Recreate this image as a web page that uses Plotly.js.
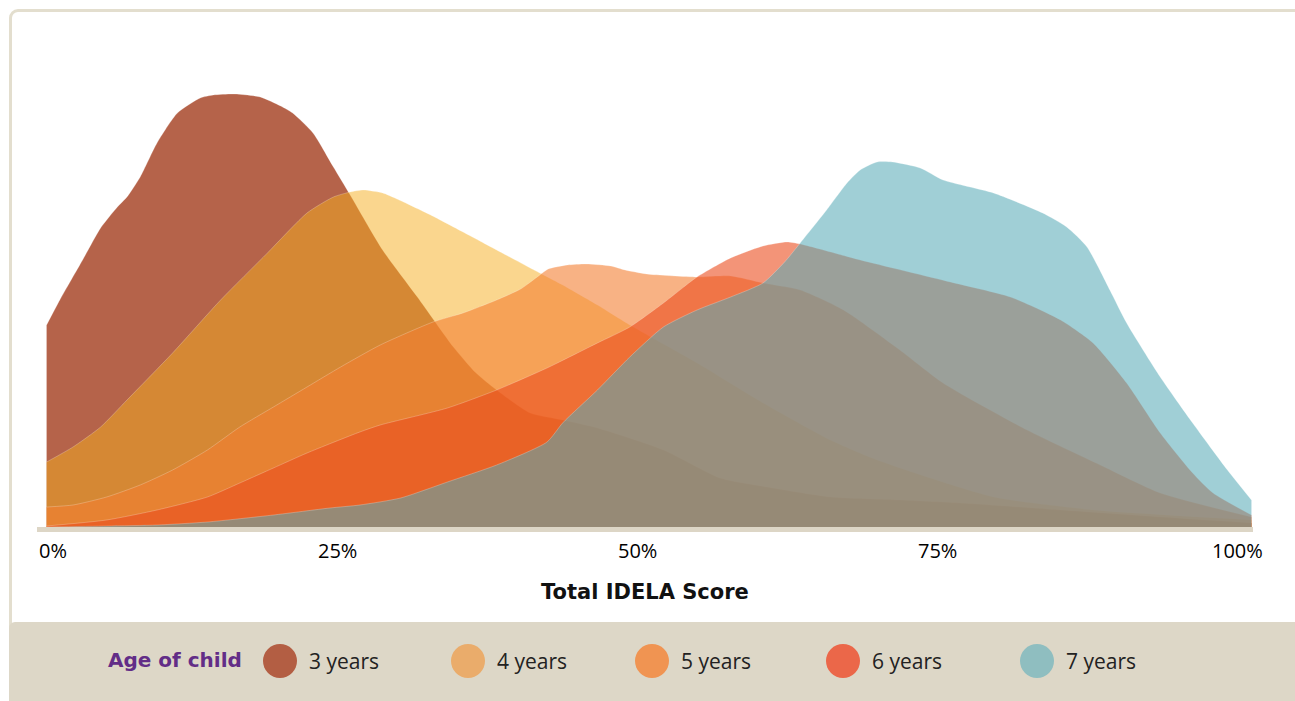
<!DOCTYPE html>
<html>
<head>
<meta charset="utf-8">
<script src="https://cdn.plot.ly/plotly-3.0.1.min.js"></script>
<style>
  html, body { margin: 0; padding: 0; background: #fff; overflow: hidden; }
  #frame { position: absolute; left: 9px; top: 9px; width: 1320px; height: 720px;
           border: 3px solid #e3dece; border-radius: 9px; box-sizing: border-box; }
  #band { position: absolute; left: 9px; top: 622px; width: 1320px; height: 100px;
          background: #ddd7c7; border-radius: 6px; }
  #chart { position: absolute; left: 0; top: 0; width: 1295px; height: 701px; }
</style>
</head>
<body>
<div id="frame"></div>
<div id="band"></div>
<div id="chart"></div>
<script>
// Age groups and density curves (x = total IDELA score in %, y = relative density)
const ages = ["3 years", "4 years", "5 years", "6 years", "7 years"];

const score3 = [0.8, 1.9, 3.8, 5.3, 6.7, 7.5, 8.6, 10.0, 11.7, 13.6, 14.7, 16.5, 18.6, 20.3, 21.3, 23.0, 24.7, 26.1, 28.8, 31.7, 34.7, 36.5, 38.3, 41.1, 43.8, 46.7, 52.2, 56.9, 60.3, 66.1, 71.9, 76.9, 85.3, 93.6, 101.2];
const dens3  = [2.02, 2.27, 2.67, 2.99, 3.20, 3.30, 3.50, 3.84, 4.14, 4.29, 4.32, 4.33, 4.30, 4.21, 4.14, 3.94, 3.60, 3.32, 2.77, 2.30, 1.80, 1.55, 1.37, 1.14, 1.07, 0.99, 0.77, 0.49, 0.41, 0.30, 0.27, 0.24, 0.17, 0.10, 0.04];

const score4 = [0.8, 3.0, 5.3, 7.5, 11.3, 15.3, 19.2, 22.5, 24.7, 26.1, 27.2, 28.8, 30.0, 32.8, 35.5, 38.3, 41.1, 43.8, 46.7, 49.4, 51.3, 55.0, 60.5, 66.1, 70.0, 79.7, 88.0, 101.2];
const dens4  = [0.65, 0.80, 1.00, 1.27, 1.74, 2.27, 2.74, 3.14, 3.30, 3.35, 3.37, 3.34, 3.28, 3.12, 2.95, 2.77, 2.59, 2.42, 2.22, 2.02, 1.89, 1.64, 1.24, 0.87, 0.67, 0.30, 0.17, 0.07];

const score5 = [0.8, 3.0, 5.8, 8.6, 11.3, 14.2, 16.9, 19.7, 22.5, 25.3, 28.6, 33.0, 35.5, 38.3, 40.3, 41.9, 42.6, 44.2, 45.8, 47.8, 49.0, 50.8, 55.0, 57.8, 60.5, 63.6, 67.2, 71.9, 75.5, 82.5, 88.6, 93.6, 101.2];
const dens5  = [0.20, 0.22, 0.30, 0.42, 0.57, 0.77, 1.00, 1.20, 1.40, 1.60, 1.82, 2.05, 2.14, 2.27, 2.38, 2.52, 2.58, 2.62, 2.63, 2.61, 2.57, 2.53, 2.50, 2.51, 2.44, 2.37, 2.17, 1.77, 1.44, 0.97, 0.62, 0.34, 0.10];

const score6 = [0.8, 5.8, 10.0, 14.2, 16.9, 19.7, 22.5, 26.9, 28.6, 34.2, 38.3, 42.5, 46.7, 49.4, 52.2, 55.0, 57.8, 60.5, 62.5, 63.6, 68.6, 76.1, 81.1, 85.3, 88.0, 90.8, 93.6, 96.3, 98.0, 101.2];
const dens6  = [0.01, 0.07, 0.17, 0.30, 0.44, 0.59, 0.74, 0.95, 1.02, 1.19, 1.37, 1.59, 1.84, 2.00, 2.24, 2.50, 2.69, 2.81, 2.85, 2.83, 2.67, 2.45, 2.30, 2.07, 1.84, 1.44, 0.94, 0.54, 0.34, 0.12];

const score7 = [0.8, 5.8, 10.0, 14.2, 19.7, 24.4, 26.9, 30.3, 34.2, 38.3, 42.5, 43.8, 46.7, 49.4, 52.2, 55.0, 57.8, 60.5, 62.3, 63.6, 65.8, 67.5, 68.6, 70.0, 71.3, 73.6, 75.5, 79.7, 83.8, 85.8, 87.5, 89.4, 90.8, 93.6, 96.3, 99.2, 101.2];
const dens7  = [0.00, 0.01, 0.02, 0.05, 0.12, 0.19, 0.22, 0.29, 0.45, 0.62, 0.85, 1.04, 1.37, 1.70, 2.00, 2.17, 2.30, 2.44, 2.65, 2.84, 3.17, 3.44, 3.57, 3.65, 3.65, 3.59, 3.47, 3.34, 3.14, 3.00, 2.80, 2.37, 2.04, 1.50, 1.04, 0.57, 0.27];

const scores = [score3, score4, score5, score6, score7];
const densities = [dens3, dens4, dens5, dens6, dens7];

const tickValues = [0, 25, 50, 75, 100];
const tickLabels = ["0%", "25%", "50%", "75%", "100%"];

// styles
const fillColors = ["rgba(181,99,74,1)", "rgba(245,173,29,0.5)", "rgba(243,127,50,0.6)",
                    "rgba(235,77,30,0.6)", "rgba(86,169,182,0.56)"];
const legendColors = ["#b35e43", "#eaac6b", "#f09452", "#eb6749", "#8fbec0"];
const legendPx = [280, 468, 652, 843, 1037];

const W = 1295, H = 701;
const M = { l: 37, r: 42, t: 77, b: 174 };
const plotW = W - M.l - M.r, plotH = H - M.t - M.b;
const px2paperX = px => (px - M.l) / plotW;
const px2paperY = py => (H - M.b - py) / plotH;

const traces = ages.map((age, i) => ({
    x: scores[i],
    y: densities[i],
    type: "scatter",
    mode: "lines",
    name: age,
    fill: "tozeroy",
    fillcolor: fillColors[i],
    line: { color: "rgba(255,255,255,0.3)", width: 0.8, shape: "spline", smoothing: 0.6 },
    hoverinfo: "skip",
    showlegend: false
}));

const annotations = [];
tickValues.forEach((v, i) => {
    annotations.push({
        x: v, y: px2paperY(550), xref: "x", yref: "paper",
        text: tickLabels[i], showarrow: false,
        xanchor: i === 0 ? "left" : "center", yanchor: "middle",
        font: { family: "Open Sans, sans-serif", size: 20, color: "#000" }
    });
});
annotations.push({
    x: px2paperX(645), y: px2paperY(592), xref: "paper", yref: "paper",
    text: "<b>Total IDELA Score</b>", showarrow: false, xanchor: "center", yanchor: "middle",
    font: { family: "DejaVu Sans, sans-serif", size: 21, color: "#111" }
});
annotations.push({
    x: px2paperX(244), y: px2paperY(660), xref: "paper", yref: "paper",
    text: "<b>Age of child</b>", showarrow: false, xanchor: "right", yanchor: "middle",
    font: { family: "DejaVu Sans, sans-serif", size: 20, color: "#622d87" }
});

const shapes = [];
ages.forEach((age, i) => {
    shapes.push({
        type: "circle", xref: "paper", yref: "paper",
        xsizemode: "pixel", ysizemode: "pixel",
        xanchor: px2paperX(legendPx[i]), yanchor: px2paperY(661),
        x0: -17, x1: 17, y0: -17, y1: 17,
        fillcolor: legendColors[i], line: { width: 0 }
    });
    annotations.push({
        x: px2paperX(legendPx[i] + 27), y: px2paperY(661), xref: "paper", yref: "paper",
        text: age, showarrow: false, xanchor: "left", yanchor: "middle",
        font: { family: "Open Sans, sans-serif", size: 21, color: "#222" }
    });
});

const layout = {
    width: W, height: H,
    margin: M,
    paper_bgcolor: "rgba(0,0,0,0)",
    plot_bgcolor: "rgba(0,0,0,0)",
    showlegend: false,
    xaxis: {
        range: [0, 101.33],
        showgrid: false, zeroline: false, showticklabels: false, ticks: "",
        showline: true, linecolor: "#ddd6c6", linewidth: 5
    },
    yaxis: {
        range: [0, 4.5],
        visible: false
    },
    annotations: annotations,
    shapes: shapes
};

Plotly.newPlot("chart", traces, layout, { displayModeBar: false, staticPlot: true });
</script>
</body>
</html>
